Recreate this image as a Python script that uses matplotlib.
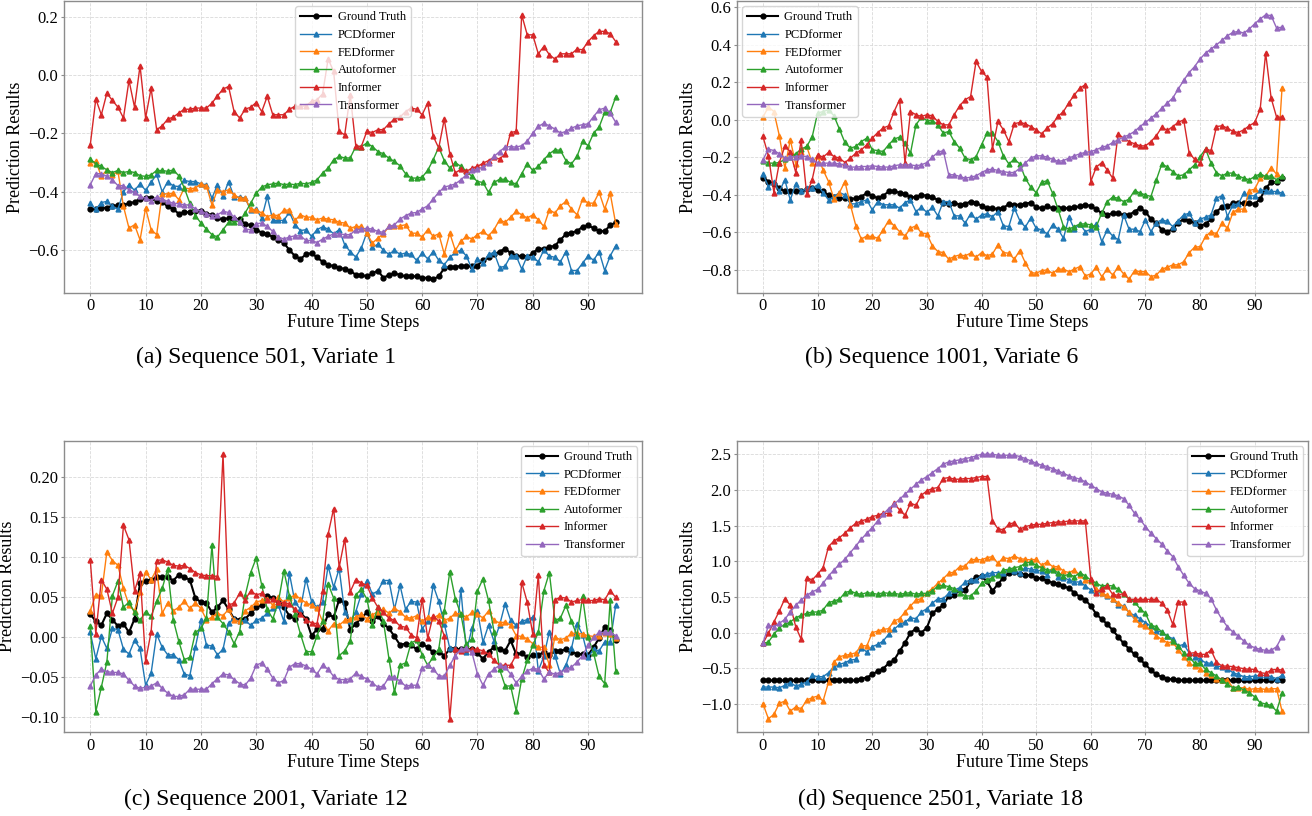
import numpy as np
import matplotlib
matplotlib.use("Agg")
import matplotlib.pyplot as plt
from matplotlib.ticker import MultipleLocator

plt.rcParams['font.family'] = ['Liberation Serif', 'DejaVu Serif']
plt.rcParams['axes.unicode_minus'] = True

steps = np.arange(96)
model_names = ['Ground Truth', 'PCDformer', 'FEDformer', 'Autoformer', 'Informer', 'Transformer']
colors = ['black', '#1f77b4', '#ff7f0e', '#2ca02c', '#d62728', '#9467bd']
x_ticks = [0, 10, 20, 30, 40, 50, 60, 70, 80, 90]

# ---- (a) Sequence 501, Variate 1
a_gt = [-0.46, -0.46, -0.455, -0.455, -0.45, -0.445, -0.445, -0.44, -0.435, -0.425,
        -0.42, -0.42, -0.43, -0.435, -0.45, -0.46, -0.475, -0.47, -0.47, -0.465,
        -0.465, -0.475, -0.48, -0.49, -0.495, -0.49, -0.495, -0.495, -0.51, -0.515,
        -0.53, -0.54, -0.545, -0.555, -0.565, -0.575, -0.6, -0.62, -0.63, -0.615,
        -0.61, -0.625, -0.64, -0.65, -0.655, -0.66, -0.665, -0.67, -0.685, -0.685,
        -0.69, -0.68, -0.67, -0.695, -0.685, -0.68, -0.685, -0.69, -0.69, -0.69,
        -0.695, -0.695, -0.7, -0.69, -0.662, -0.658, -0.658, -0.654, -0.656, -0.654,
        -0.653, -0.635, -0.625, -0.615, -0.605, -0.595, -0.61, -0.62, -0.62, -0.625,
        -0.61, -0.595, -0.595, -0.59, -0.585, -0.565, -0.545, -0.54, -0.535, -0.52,
        -0.515, -0.525, -0.535, -0.535, -0.515, -0.505]
a_pcd = [-0.44, -0.46, -0.437, -0.433, -0.45, -0.46, -0.40, -0.376, -0.395, -0.373,
         -0.395, -0.368, -0.34, -0.40, -0.365, -0.38, -0.382, -0.361, -0.365, -0.365,
         -0.373, -0.376, -0.422, -0.376, -0.416, -0.365, -0.418, -0.418, -0.422, -0.462,
         -0.46, -0.49, -0.416, -0.498, -0.498, -0.498, -0.47, -0.513, -0.533, -0.53,
         -0.553, -0.53, -0.52, -0.528, -0.544, -0.53, -0.582, -0.605, -0.624, -0.593,
         -0.54, -0.59, -0.58, -0.6, -0.615, -0.6, -0.615, -0.61, -0.615, -0.635,
         -0.61, -0.63, -0.605, -0.635, -0.65, -0.625, -0.608, -0.6, -0.62, -0.665,
         -0.63, -0.645, -0.615, -0.608, -0.66, -0.655, -0.62, -0.62, -0.665, -0.62,
         -0.625, -0.64, -0.6, -0.62, -0.625, -0.64, -0.605, -0.67, -0.67, -0.645,
         -0.62, -0.635, -0.605, -0.67, -0.62, -0.585]
a_fed = [-0.30, -0.296, -0.347, -0.325, -0.342, -0.33, -0.45, -0.525, -0.513, -0.565,
         -0.456, -0.53, -0.547, -0.407, -0.407, -0.405, -0.427, -0.387, -0.39, -0.387,
         -0.373, -0.38, -0.445, -0.393, -0.40, -0.393, -0.41, -0.422, -0.422, -0.46,
         -0.462, -0.473, -0.485, -0.479, -0.482, -0.464, -0.462, -0.498, -0.479, -0.487,
         -0.487, -0.496, -0.49, -0.494, -0.496, -0.505, -0.507, -0.525, -0.519, -0.519,
         -0.542, -0.576, -0.559, -0.544, -0.519, -0.519, -0.517, -0.513, -0.542, -0.542,
         -0.555, -0.53, -0.553, -0.544, -0.613, -0.542, -0.601, -0.57, -0.553, -0.562,
         -0.547, -0.536, -0.551, -0.53, -0.496, -0.505, -0.487, -0.467, -0.479, -0.49,
         -0.479, -0.496, -0.519, -0.462, -0.473, -0.448, -0.433, -0.459, -0.479, -0.425,
         -0.439, -0.439, -0.402, -0.459, -0.405, -0.51]
a_auto = [-0.288, -0.304, -0.313, -0.325, -0.334, -0.327, -0.334, -0.33, -0.334, -0.345,
          -0.347, -0.342, -0.327, -0.327, -0.33, -0.325, -0.345, -0.387, -0.439, -0.482,
          -0.507, -0.528, -0.547, -0.555, -0.53, -0.505, -0.502, -0.502, -0.473, -0.439,
          -0.405, -0.384, -0.376, -0.373, -0.37, -0.376, -0.373, -0.376, -0.37, -0.373,
          -0.368, -0.359, -0.336, -0.319, -0.29, -0.279, -0.284, -0.284, -0.245, -0.245,
          -0.233, -0.245, -0.262, -0.27, -0.285, -0.296, -0.311, -0.338, -0.353, -0.353,
          -0.35, -0.327, -0.29, -0.247, -0.293, -0.319, -0.30, -0.313, -0.33, -0.347,
          -0.365, -0.368, -0.402, -0.368, -0.357, -0.357, -0.368, -0.373, -0.338, -0.304,
          -0.327, -0.313, -0.29, -0.27, -0.256, -0.258, -0.293, -0.304, -0.279, -0.227,
          -0.242, -0.199, -0.178, -0.128, -0.128, -0.075]
a_inf = [-0.239, -0.082, -0.136, -0.062, -0.087, -0.11, -0.147, -0.018, -0.11, 0.032,
         -0.147, -0.045, -0.187, -0.174, -0.151, -0.144, -0.13, -0.117, -0.117, -0.113,
         -0.113, -0.113, -0.096, -0.071, -0.048, -0.039, -0.125, -0.147, -0.117, -0.11,
         -0.094, -0.125, -0.073, -0.136, -0.136, -0.136, -0.117, -0.107, -0.107, -0.105,
         -0.09, -0.085, -0.064, 0.055, 0.013, -0.193, -0.205, -0.067, -0.242, -0.245,
         -0.193, -0.197, -0.187, -0.187, -0.167, -0.151, -0.144, -0.125, -0.113, -0.117,
         -0.136, -0.096, -0.21, -0.25, -0.151, -0.27, -0.336, -0.322, -0.33, -0.319,
         -0.313, -0.302, -0.293, -0.281, -0.288, -0.27, -0.197, -0.193, 0.207, 0.138,
         0.138, 0.073, 0.098, 0.07, 0.055, 0.073, 0.073, 0.073, 0.089, 0.087,
         0.115, 0.135, 0.15, 0.15, 0.142, 0.115]
a_tr = [-0.376, -0.338, -0.338, -0.347, -0.359, -0.379, -0.379, -0.393, -0.402, -0.416,
        -0.422, -0.43, -0.418, -0.425, -0.433, -0.439, -0.441, -0.445, -0.445, -0.459,
        -0.467, -0.475, -0.482, -0.479, -0.467, -0.471, -0.487, -0.505, -0.528, -0.53,
        -0.51, -0.507, -0.519, -0.536, -0.555, -0.562, -0.555, -0.551, -0.551, -0.567,
        -0.567, -0.574, -0.562, -0.553, -0.544, -0.544, -0.547, -0.547, -0.53, -0.528,
        -0.525, -0.528, -0.536, -0.539, -0.519, -0.513, -0.494, -0.482, -0.473, -0.471,
        -0.459, -0.448, -0.425, -0.402, -0.384, -0.379, -0.373, -0.359, -0.342, -0.327,
        -0.322, -0.315, -0.302, -0.279, -0.262, -0.247, -0.245, -0.247, -0.242, -0.227,
        -0.199, -0.176, -0.165, -0.174, -0.185, -0.199, -0.193, -0.182, -0.174, -0.17,
        -0.167, -0.142, -0.119, -0.113, -0.13, -0.162]

# ---- (b) Sequence 1001, Variate 6
b_gt = [-0.308, -0.329, -0.341, -0.364, -0.382, -0.382, -0.377, -0.382, -0.37, -0.364,
        -0.373, -0.382, -0.40, -0.412, -0.418, -0.418, -0.423, -0.418, -0.409, -0.391,
        -0.405, -0.418, -0.405, -0.382, -0.382, -0.388, -0.395, -0.412, -0.412, -0.40,
        -0.405, -0.412, -0.427, -0.441, -0.448, -0.441, -0.453, -0.448, -0.436, -0.441,
        -0.459, -0.471, -0.471, -0.476, -0.471, -0.448, -0.453, -0.453, -0.448, -0.441,
        -0.466, -0.471, -0.462, -0.471, -0.471, -0.471, -0.471, -0.466, -0.462, -0.453,
        -0.459, -0.476, -0.498, -0.507, -0.498, -0.498, -0.507, -0.507, -0.489, -0.471,
        -0.489, -0.53, -0.551, -0.587, -0.596, -0.583, -0.548, -0.53, -0.537, -0.548,
        -0.565, -0.555, -0.53, -0.489, -0.466, -0.462, -0.444, -0.444, -0.444, -0.444,
        -0.448, -0.423, -0.364, -0.334, -0.334, -0.311]
b_pcd = [-0.288, -0.356, -0.329, -0.382, -0.32, -0.427, -0.341, -0.382, -0.364, -0.364,
         -0.347, -0.388, -0.427, -0.409, -0.388, -0.40, -0.448, -0.448, -0.436, -0.427,
         -0.48, -0.436, -0.453, -0.453, -0.453, -0.471, -0.441, -0.427, -0.489, -0.466,
         -0.494, -0.466, -0.512, -0.436, -0.436, -0.512, -0.512, -0.551, -0.501, -0.53,
         -0.507, -0.501, -0.516, -0.489, -0.565, -0.569, -0.471, -0.537, -0.572, -0.524,
         -0.578, -0.587, -0.608, -0.56, -0.583, -0.631, -0.519, -0.583, -0.555, -0.596,
         -0.583, -0.555, -0.649, -0.587, -0.619, -0.64, -0.507, -0.583, -0.583, -0.596,
         -0.533, -0.596, -0.548, -0.533, -0.542, -0.569, -0.537, -0.507, -0.498, -0.548,
         -0.53, -0.519, -0.507, -0.418, -0.405, -0.516, -0.453, -0.448, -0.391, -0.405,
         -0.405, -0.373, -0.377, -0.382, -0.382, -0.391]
b_fed = [0.014, 0.068, 0.044, -0.085, -0.258, -0.107, -0.235, -0.169, -0.142, -0.228,
         -0.192, -0.267, -0.329, -0.423, -0.388, -0.329, -0.453, -0.565, -0.636, -0.619,
         -0.622, -0.631, -0.587, -0.537, -0.565, -0.596, -0.619, -0.578, -0.565, -0.604,
         -0.608, -0.672, -0.702, -0.708, -0.743, -0.729, -0.72, -0.725, -0.711, -0.732,
         -0.708, -0.725, -0.715, -0.667, -0.708, -0.711, -0.743, -0.697, -0.761, -0.814,
         -0.818, -0.804, -0.80, -0.818, -0.796, -0.796, -0.809, -0.796, -0.782, -0.832,
         -0.821, -0.786, -0.836, -0.796, -0.827, -0.786, -0.821, -0.85, -0.804, -0.809,
         -0.809, -0.836, -0.827, -0.796, -0.786, -0.773, -0.773, -0.756, -0.708, -0.679,
         -0.676, -0.622, -0.596, -0.608, -0.551, -0.578, -0.494, -0.476, -0.476, -0.377,
         -0.37, -0.311, -0.30, -0.255, -0.29, 0.17]
b_auto = [-0.217, -0.231, -0.231, -0.228, -0.21, -0.196, -0.181, -0.156, -0.142, -0.092,
          0.036, 0.044, 0.053, 0.021, -0.05, -0.121, -0.151, -0.142, -0.116, -0.098,
          -0.16, -0.164, -0.169, -0.133, -0.103, -0.092, -0.124, -0.178, -0.027, 0.014,
          -0.004, -0.004, -0.027, -0.071, -0.062, -0.116, -0.151, -0.204, -0.213, -0.196,
          -0.133, -0.071, -0.071, -0.116, -0.192, -0.235, -0.21, -0.235, -0.311, -0.359,
          -0.388, -0.334, -0.324, -0.391, -0.476, -0.569, -0.583, -0.569, -0.555, -0.555,
          -0.56, -0.569, -0.498, -0.436, -0.412, -0.418, -0.436, -0.423, -0.377, -0.391,
          -0.40, -0.409, -0.32, -0.235, -0.252, -0.276, -0.299, -0.293, -0.267, -0.24,
          -0.196, -0.156, -0.231, -0.281, -0.299, -0.284, -0.284, -0.299, -0.311, -0.32,
          -0.302, -0.288, -0.302, -0.299, -0.32, -0.299]
b_inf = [-0.089, -0.192, -0.388, -0.228, -0.142, -0.169, -0.281, -0.11, -0.395, -0.32,
         -0.187, -0.199, -0.174, -0.196, -0.204, -0.228, -0.204, -0.178, -0.16, -0.133,
         -0.098, -0.068, -0.044, -0.032, 0.044, 0.107, -0.231, 0.044, 0.027, 0.018,
         0.027, 0.021, -0.009, -0.027, -0.027, 0.027, 0.075, 0.107, 0.124, 0.311,
         0.258, 0.228, -0.156, -0.009, -0.053, -0.116, -0.021, -0.014, -0.021, -0.036,
         -0.053, -0.075, -0.044, -0.021, 0.018, 0.044, 0.092, 0.133, 0.169, 0.187,
         -0.329, -0.252, -0.228, -0.267, -0.311, -0.075, -0.098, -0.116, -0.128, -0.139,
         -0.139, -0.116, -0.085, -0.039, -0.057, -0.036, -0.014, 0.0, -0.178, -0.21,
         -0.231, -0.156, -0.164, -0.036, -0.032, -0.044, -0.062, -0.068, -0.053, -0.032,
         -0.014, 0.057, 0.356, 0.116, 0.014, 0.014]
b_tr = [-0.213, -0.156, -0.164, -0.181, -0.204, -0.199, -0.196, -0.192, -0.196, -0.21,
        -0.231, -0.231, -0.231, -0.231, -0.235, -0.24, -0.252, -0.252, -0.249, -0.249,
        -0.245, -0.249, -0.252, -0.252, -0.245, -0.24, -0.24, -0.24, -0.245, -0.24,
        -0.228, -0.199, -0.174, -0.164, -0.293, -0.293, -0.302, -0.311, -0.306, -0.299,
        -0.281, -0.267, -0.263, -0.27, -0.276, -0.281, -0.281, -0.258, -0.231, -0.204,
        -0.192, -0.192, -0.199, -0.21, -0.222, -0.217, -0.204, -0.192, -0.181, -0.174,
        -0.169, -0.16, -0.146, -0.139, -0.121, -0.107, -0.092, -0.08, -0.062, -0.036,
        -0.014, 0.009, 0.032, 0.062, 0.089, 0.116, 0.164, 0.21, 0.252, 0.284,
        0.324, 0.356, 0.377, 0.40, 0.423, 0.448, 0.466, 0.471, 0.462, 0.484,
        0.512, 0.537, 0.56, 0.555, 0.489, 0.494]

# ---- (c) Sequence 2001, Variate 12
c_gt = [0.029, 0.020, 0.015, 0.030, 0.022, 0.014, 0.017, 0.006, 0.023, 0.068,
        0.071, 0.072, 0.075, 0.075, 0.075, 0.071, 0.078, 0.075, 0.072, 0.049,
        0.044, 0.043, 0.031, 0.0375, 0.046, 0.035, 0.023, 0.022, 0.023, 0.030,
        0.0375, 0.040, 0.052, 0.049, 0.046, 0.0375, 0.027, 0.023, 0.031, 0.023,
        0.002, 0.010, 0.010, 0.029, 0.025, 0.047, 0.043, 0.0096, 0.017, 0.024,
        0.031, 0.020, 0.027, 0.017, 0.011, 0.001, -0.0096, -0.008, -0.010, -0.015,
        -0.008, -0.0125, -0.019, -0.018, -0.023, -0.015, -0.015, -0.015, -0.015, -0.015,
        -0.020, -0.027, -0.018, -0.0125, -0.015, -0.017, -0.004, -0.021, -0.020, -0.025,
        -0.022, -0.022, -0.019, -0.022, -0.017, -0.017, -0.015, -0.018, -0.021, -0.021,
        -0.022, -0.0125, -0.001, 0.0125, 0.0096, -0.004]
c_pcd = [0.006, -0.027, 0.001, -0.014, 0.011, 0.0096, -0.015, -0.021, -0.004, -0.014,
         -0.060, -0.045, 0.004, -0.0125, -0.022, -0.022, -0.028, -0.046, -0.048, -0.0125,
         0.021, -0.0096, -0.011, -0.022, -0.015, 0.018, 0.023, 0.020, 0.021, 0.015,
         0.021, 0.024, 0.030, 0.036, 0.040, 0.020, 0.080, 0.044, 0.035, 0.073,
         0.045, 0.0375, 0.044, 0.089, 0.0625, 0.086, 0.031, 0.020, 0.032, 0.054,
         0.071, 0.054, 0.058, 0.071, 0.071, 0.035, 0.065, 0.035, 0.045, 0.044,
         0.0104, 0.020, 0.065, 0.045, 0.017, -0.014, -0.015, 0.060, -0.018, 0.011,
         0.033, -0.006, 0.015, -0.005, 0.015, 0.042, 0.021, 0.015, 0.020, 0.022,
         0.025, -0.042, -0.024, 0.007, -0.023, -0.046, -0.035, -0.014, 0.017, 0.003,
         -0.025, -0.015, -0.017, -0.006, -0.006, 0.040]
c_fed = [0.033, 0.053, 0.052, 0.107, 0.096, 0.090, 0.061, 0.040, 0.033, 0.056,
         0.082, 0.072, 0.085, 0.030, 0.043, 0.033, 0.0375, 0.045, 0.036, 0.043,
         0.036, 0.022, 0.025, 0.030, 0.027, 0.035, 0.021, 0.020, 0.033, 0.0375,
         0.044, 0.046, 0.048, 0.040, 0.050, 0.044, 0.049, 0.053, 0.048, 0.043,
         0.040, 0.036, 0.020, 0.008, 0.017, 0.015, 0.021, 0.023, 0.025, 0.029,
         0.023, 0.028, 0.032, 0.035, 0.030, 0.036, 0.032, 0.025, 0.024, 0.027,
         0.020, 0.025, 0.024, 0.028, 0.021, 0.024, 0.030, 0.029, 0.025, 0.031,
         0.029, 0.024, 0.033, 0.021, 0.018, 0.019, 0.015, 0.002, 0.001, -0.002,
         -0.008, -0.0125, -0.0125, -0.035, 0.0, -0.003, -0.001, 0.005, 0.005, 0.004,
         0.002, 0.001, 0.002, 0.005, 0.004, -0.001]
c_auto = [0.014, -0.093, -0.0625, -0.031, 0.052, 0.070, 0.0375, 0.044, 0.031, 0.021,
          0.032, 0.026, 0.045, 0.061, 0.085, 0.022, -0.005, -0.028, -0.025, 0.006,
          0.011, 0.024, 0.115, 0.025, 0.017, 0.007, -0.008, 0.007, 0.052, 0.081,
          0.099, 0.065, 0.035, 0.023, 0.044, 0.083, 0.052, 0.029, 0.004, -0.018,
          -0.018, 0.002, 0.020, 0.067, 0.049, -0.023, -0.017, -0.005, 0.053, 0.060,
          0.048, 0.015, 0.0375, 0.020, -0.027, -0.069, -0.035, -0.032, -0.007, -0.004,
          -0.022, -0.035, -0.025, -0.015, 0.033, 0.082, 0.048, 0.029, -0.008, -0.002,
          0.058, 0.073, 0.046, 0.007, -0.040, -0.061, -0.061, -0.092, -0.052, -0.029,
          -0.010, 0.006, 0.058, 0.081, 0.021, 0.024, 0.040, 0.020, 0.002, 0.051,
          0.0, -0.020, -0.049, -0.058, 0.046, -0.042]
c_inf = [0.097, 0.004, 0.072, 0.060, 0.030, 0.050, 0.140, 0.122, 0.058, 0.080,
         -0.030, 0.007, 0.096, 0.097, 0.094, 0.090, 0.089, 0.090, 0.086, 0.081,
         0.078, 0.077, 0.077, 0.076, 0.229, 0.040, 0.043, 0.055, 0.047, 0.058,
         0.053, 0.055, 0.046, 0.048, 0.044, 0.043, 0.042, 0.035, 0.029, 0.022,
         0.018, 0.017, 0.058, 0.129, 0.161, 0.0875, 0.123, 0.057, 0.072, 0.068,
         0.065, 0.049, 0.0375, 0.031, 0.024, 0.021, 0.014, 0.0125, 0.003, -0.001,
         0.048, -0.001, 0.027, 0.020, 0.002, -0.102, -0.015, -0.017, -0.015, -0.015,
         -0.015, -0.017, -0.021, -0.029, -0.035, -0.035, -0.035, -0.022, 0.069, 0.044,
         0.004, 0.078, -0.035, -0.044, 0.047, 0.050, 0.049, 0.044, 0.046, 0.047,
         0.046, 0.046, 0.048, 0.047, 0.058, 0.050]
c_tr = [-0.061, -0.047, -0.040, -0.043, -0.044, -0.044, -0.046, -0.054, -0.061, -0.064,
        -0.0625, -0.061, -0.057, -0.064, -0.070, -0.074, -0.074, -0.072, -0.065, -0.065,
        -0.065, -0.065, -0.058, -0.052, -0.046, -0.047, -0.053, -0.058, -0.060, -0.051,
        -0.035, -0.032, -0.040, -0.051, -0.057, -0.054, -0.0375, -0.033, -0.033, -0.036,
        -0.040, -0.046, -0.035, -0.040, -0.049, -0.053, -0.053, -0.052, -0.045, -0.049,
        -0.052, -0.057, -0.0625, -0.061, -0.050, -0.050, -0.055, -0.061, -0.060, -0.060,
        -0.039, -0.035, -0.040, -0.048, -0.049, -0.035, -0.023, -0.015, -0.014, -0.019,
        -0.046, -0.060, -0.046, -0.040, -0.035, -0.0375, -0.046, -0.057, -0.049, -0.042,
        -0.039, -0.040, -0.052, -0.044, -0.046, -0.044, -0.040, -0.0375, -0.031, -0.023,
        -0.010, 0.0, 0.006, 0.006, 0.006, 0.002]

# ---- (d) Sequence 2501, Variate 18
d_gt = [-0.67, -0.67, -0.67, -0.67, -0.67, -0.67, -0.67, -0.67, -0.67, -0.67,
        -0.67, -0.67, -0.67, -0.67, -0.67, -0.67, -0.67, -0.67, -0.645, -0.63,
        -0.585, -0.54, -0.505, -0.43, -0.385, -0.26, -0.14, 0.0, 0.055, 0.0,
        0.07, 0.27, 0.335, 0.385, 0.515, 0.525, 0.60, 0.60, 0.72, 0.78,
        0.79, 0.72, 0.585, 0.68, 0.77, 0.83, 0.85, 0.82, 0.805, 0.805,
        0.77, 0.76, 0.725, 0.70, 0.68, 0.655, 0.62, 0.56, 0.505, 0.46,
        0.375, 0.26, 0.19, 0.12, 0.035, -0.055, -0.15, -0.225, -0.305, -0.375,
        -0.445, -0.525, -0.585, -0.62, -0.645, -0.655, -0.665, -0.67, -0.67, -0.67,
        -0.67, -0.67, -0.67, -0.67, -0.67, -0.67, -0.67, -0.67, -0.67, -0.67,
        -0.67, -0.67, -0.67, -0.67, -0.67, -0.67]
d_pcd = [-0.762, -0.762, -0.762, -0.772, -0.739, -0.70, -0.748, -0.725, -0.692, -0.599,
         -0.617, -0.617, -0.561, -0.477, -0.444, -0.421, -0.384, -0.374, -0.21, -0.271,
         -0.196, -0.164, -0.117, -0.023, 0.047, 0.117, 0.15, 0.21, 0.196, 0.29,
         0.337, 0.412, 0.477, 0.477, 0.552, 0.599, 0.631, 0.711, 0.739, 0.739,
         0.805, 0.819, 0.842, 0.842, 0.842, 0.889, 0.865, 0.842, 0.912, 0.889,
         0.879, 0.865, 0.805, 0.898, 0.786, 0.772, 0.739, 0.711, 0.711, 0.655,
         0.599, 0.571, 0.552, 0.515, 0.477, 0.384, 0.374, 0.281, 0.243, 0.196,
         0.14, 0.094, 0.023, 0.009, -0.047, -0.084, -0.187, -0.164, -0.281, -0.337,
         -0.374, -0.421, -0.43, -0.468, -0.477, -0.505, -0.561, -0.585, -0.617, -0.617,
         -0.608, -0.599, -0.599, -0.617, -0.645, -0.599]
d_fed = [-0.996, -1.207, -1.146, -0.99, -0.959, -1.10, -1.04, -1.066, -0.945, -0.912,
         -0.889, -0.959, -0.692, -0.412, -0.337, -0.318, -0.304, -0.281, -0.178, -0.187,
         0.0, 0.023, 0.047, 0.056, 0.164, 0.196, 0.29, 0.374, 0.458, 0.477,
         0.561, 0.617, 0.692, 0.758, 0.833, 0.851, 0.926, 0.935, 1.02, 1.029,
         1.02, 1.052, 1.066, 0.973, 1.052, 1.038, 1.076, 1.038, 1.029, 1.02,
         1.029, 0.945, 0.992, 0.926, 0.926, 0.865, 0.842, 0.879, 0.805, 0.739,
         0.725, 0.617, 0.552, 0.524, 0.468, 0.421, 0.365, 0.29, 0.196, 0.117,
         0.094, 0.023, -0.047, -0.094, -0.14, -0.131, -0.243, -0.337, -0.43, -0.468,
         -0.505, -0.561, -0.599, -0.645, -0.664, -0.664, -0.772, -0.772, -0.772, -0.795,
         -0.786, -0.786, -0.795, -0.786, -0.786, -1.10]
d_auto = [-0.15, -0.131, -0.023, 0.07, 0.117, 0.15, 0.21, 0.243, 0.271, 0.29,
          0.29, 0.318, 0.421, 0.444, 0.468, 0.561, 0.585, 0.552, 0.538, 0.561,
          0.552, 0.538, 0.561, 0.552, 0.552, 0.538, 0.552, 0.561, 0.538, 0.552,
          0.552, 0.585, 0.655, 0.664, 0.645, 0.617, 0.561, 0.515, 0.515, 0.585,
          0.692, 0.739, 0.772, 0.805, 0.879, 0.889, 0.912, 0.926, 0.973, 0.992,
          0.945, 0.912, 0.879, 0.879, 0.842, 0.795, 0.819, 0.786, 0.842, 0.795,
          0.739, 0.692, 0.655, 0.664, 0.655, 0.608, 0.538, 0.477, 0.43, 0.337,
          0.271, 0.103, 0.084, 0.009, -0.047, -0.117, -0.187, -0.281, -0.337, -0.43,
          -0.43, -0.514, -0.561, -0.608, -0.664, -0.725, -0.772, -0.758, -0.805, -0.842,
          -0.90, -0.98, -1.0, -1.02, -1.10, -0.85]
d_inf = [-0.15, -0.009, 0.15, 0.304, 0.477, 0.384, 0.084, -0.094, 0.772, 0.739,
         0.819, 0.912, 1.207, 1.286, 1.333, 1.394, 1.473, 1.534, 1.567, 1.59,
         1.628, 1.646, 1.674, 1.674, 1.815, 1.721, 1.646, 1.815, 1.787, 1.927,
         1.988, 2.021, 2.035, 2.161, 2.175, 2.152, 2.152, 2.161, 2.161, 2.175,
         2.189, 2.189, 1.567, 1.459, 1.441, 1.52, 1.543, 1.45, 1.487, 1.506,
         1.52, 1.52, 1.534, 1.543, 1.553, 1.553, 1.567, 1.567, 1.567, 1.567,
         0.748, 0.561, 0.617, 0.655, 0.538, 0.524, 0.552, 0.468, 0.468, 0.468,
         0.468, 0.468, 0.468, 0.412, 0.318, 0.117, 0.43, 0.43, -0.29, -0.281,
         -0.304, -0.304, -0.243, -0.412, -0.468, -0.468, -0.477, -0.491, -0.505, -0.514,
         -0.514, -0.561, -0.571, -0.524, -0.514, -0.524]
d_tr = [-0.15, 0.103, 0.084, 0.131, 0.187, 0.29, 0.384, 0.458, 0.524, 0.571,
        0.608, 0.692, 0.795, 0.879, 0.959, 1.029, 1.123, 1.216, 1.31, 1.394,
        1.473, 1.567, 1.66, 1.74, 1.801, 1.871, 1.941, 2.011, 2.081, 2.142,
        2.189, 2.245, 2.301, 2.362, 2.395, 2.409, 2.423, 2.441, 2.456, 2.479,
        2.502, 2.502, 2.502, 2.488, 2.488, 2.488, 2.488, 2.47, 2.441, 2.409,
        2.376, 2.348, 2.329, 2.301, 2.268, 2.236, 2.198, 2.175, 2.152, 2.114,
        2.067, 2.021, 1.974, 1.955, 1.941, 1.918, 1.88, 1.787, 1.674, 1.59,
        1.487, 1.394, 1.319, 1.24, 1.146, 1.066, 0.926, 0.805, 0.692, 0.617,
        0.585, 0.552, 0.477, 0.318, 0.187, 0.084, 0.009, -0.047, -0.117, -0.178,
        -0.21, -0.234, -0.248, -0.248, -0.196, -0.056]

captions = ['(a) Sequence 501, Variate 1', '(b) Sequence 1001, Variate 6',
            '(c) Sequence 2001, Variate 12', '(d) Sequence 2501, Variate 18']

W, H = 1312, 816
fig = plt.figure(figsize=(W / 100, H / 100), dpi=100)

# axes boxes in pixels: left, top, right, bottom
boxes = [(64, 1.5, 642, 292.5), (737, 1.5, 1308, 292.5),
         (64, 441, 642, 732), (737, 441, 1308, 732)]
panels = [
    ([a_gt, a_pcd, a_fed, a_auto, a_inf, a_tr], 'upper center', 0.2),
    ([b_gt, b_pcd, b_fed, b_auto, b_inf, b_tr], 'upper left', 0.2),
    ([c_gt, c_pcd, c_fed, c_auto, c_inf, c_tr], 'upper right', 0.05),
    ([d_gt, d_pcd, d_fed, d_auto, d_inf, d_tr], 'upper right', 0.5),
]
cap_pos = [(266, 357), (942, 357), (266, 799), (940, 799)]

for k, (series, loc, ystep) in enumerate(panels):
    l, t, r, b = boxes[k]
    ax = fig.add_axes([l / W, 1 - b / H, (r - l) / W, (b - t) / H])
    for j, vals in enumerate(series):
        if j == 0:
            ax.plot(steps, vals, color=colors[j], marker='o', markersize=3.5,
                    linewidth=1.5, label=model_names[j])
        else:
            ax.plot(steps, vals, color=colors[j], marker='^', markersize=3.5,
                    linewidth=1.0, label=model_names[j])
    ax.set_xticks(x_ticks)
    ax.yaxis.set_major_locator(MultipleLocator(ystep))
    ax.grid(True, linestyle='--', color='#d9d9d9', linewidth=0.6)
    ax.set_axisbelow(True)
    for sp in ax.spines.values():
        sp.set_color('#8c8c8c')
        sp.set_linewidth(1.0)
    ax.tick_params(labelsize=12, color='#8c8c8c', length=2, pad=2)
    ax.set_xlabel('Future Time Steps', fontsize=13, labelpad=0)
    ax.set_ylabel('Prediction Results', fontsize=13, labelpad=3)
    ax.legend(loc=loc, fontsize=9, handlelength=2.5, handletextpad=0.5,
              labelspacing=0.45, borderaxespad=0.4)
    cx, cy = cap_pos[k]
    fig.text(cx / W, 1 - cy / H, captions[k], fontsize=17, ha='center', va='center')

fig.savefig('out.png', dpi=100)
